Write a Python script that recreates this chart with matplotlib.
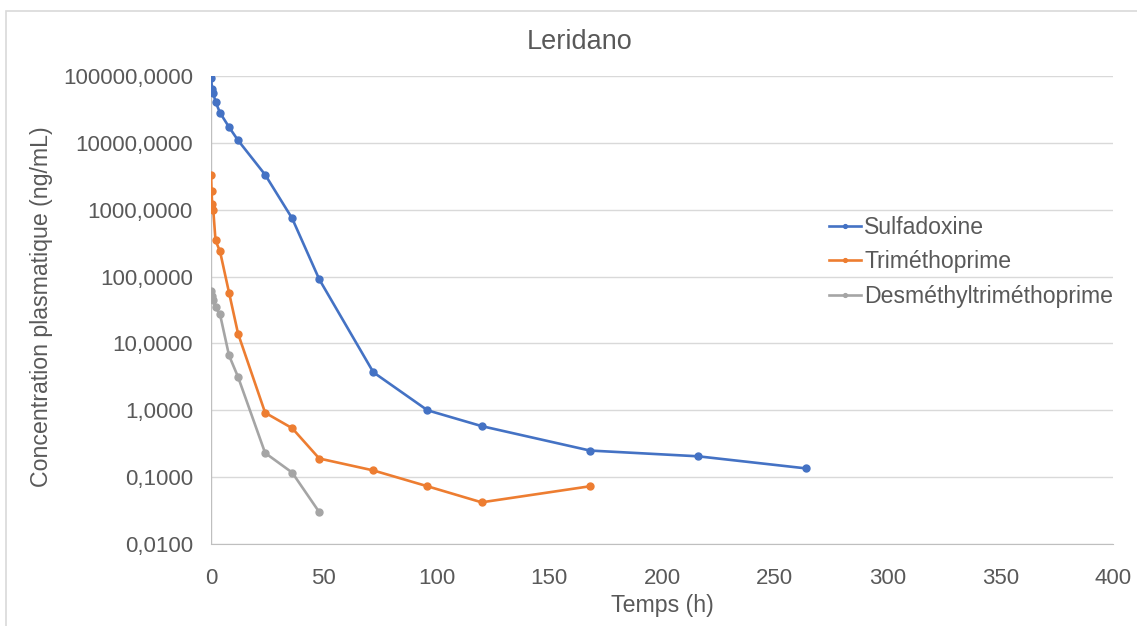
import matplotlib
matplotlib.use("Agg")
import matplotlib.pyplot as plt
from matplotlib.ticker import FixedLocator, FuncFormatter, NullLocator
from matplotlib.patches import Rectangle

title = "Leridano"
x_label = "Temps (h)"
y_label = "Concentration plasmatique (ng/mL)"

t_sulfa = [0, 0.5, 1, 2, 4, 8, 12, 24, 36, 48, 72, 96, 120, 168, 216, 264]
c_sulfa = [92700, 64400, 55300, 41100, 28200, 17200, 10900, 3340, 741, 91, 3.7, 1.0, 0.58, 0.25, 0.205, 0.135]

t_tmp = [0, 0.25, 0.5, 1, 2, 4, 8, 12, 24, 36, 48, 72, 96, 120, 168]
c_tmp = [3340, 1900, 1230, 1000, 347, 238, 57.5, 14, 0.92, 0.54, 0.19, 0.126, 0.073, 0.042, 0.073]

t_dtmp = [0, 0.5, 1, 2, 4, 8, 12, 24, 36, 48]
c_dtmp = [61, 52, 44, 34.7, 27.2, 6.6, 3.15, 0.23, 0.117, 0.030]

series_names = ["Sulfadoxine", "Triméthoprime", "Desméthyltriméthoprime"]
colors = ["#4472C4", "#ED7D31", "#A5A5A5"]

x_ticks = [0, 50, 100, 150, 200, 250, 300, 350, 400]
y_ticks = [0.01, 0.1, 1, 10, 100, 1000, 10000, 100000]

plt.rcParams['font.family'] = ['Liberation Sans', 'DejaVu Sans']
text_color = "#595959"
grid_color = "#D9D9D9"

W, H = 1137, 626
fig = plt.figure(figsize=(W / 100, H / 100), dpi=100)
ax = fig.add_axes([211 / W, 1 - 544 / H, (1113 - 211) / W, (544 - 76) / H])

for t, c, name, col in zip([t_sulfa, t_tmp, t_dtmp], [c_sulfa, c_tmp, c_dtmp], series_names, colors):
    ax.plot(t, c, color=col, lw=1.9, marker='o', markersize=5, label=name, zorder=3)

ax.set_yscale('log')
ax.set_xlim(0, 400)
ax.set_ylim(0.01, 100000)
ax.xaxis.set_major_locator(FixedLocator(x_ticks))
ax.yaxis.set_major_locator(FixedLocator(y_ticks))
ax.yaxis.set_minor_locator(NullLocator())
ax.yaxis.set_major_formatter(FuncFormatter(lambda v, p: f"{v:.4f}".replace('.', ',')))
ax.xaxis.set_major_formatter(FuncFormatter(lambda v, p: f"{v:g}"))

ax.grid(True, axis='y', color=grid_color, lw=1.0)
ax.set_axisbelow(True)
for s in ['top', 'right']:
    ax.spines[s].set_visible(False)
ax.spines['left'].set_visible(False)
ax.spines['bottom'].set_color('#BFBFBF')
ax.axvline(0, color='#BFBFBF', lw=1.0, zorder=1)

ax.tick_params(axis='both', length=0, labelsize=16, colors=text_color)
ax.tick_params(axis='x', pad=17)
ax.tick_params(axis='y', pad=13)

ax.set_xlabel(x_label, fontsize=16.7, color=text_color)
ax.xaxis.set_label_coords(0.5, -0.107)
ax.set_ylabel(y_label, fontsize=16.7, color=text_color)
ax.yaxis.set_label_coords(-0.175, 0.507)

fig.text(580 / W, 1 - 42 / H, title, fontsize=19.5, color=text_color, ha='center', va='center')

leg = fig.legend(loc='center left', bbox_to_anchor=(829 / W, 1 - 262 / H), frameon=False,
                 fontsize=16.6, handlelength=1.4, handletextpad=0.12, labelspacing=0.5,
                 borderpad=0, borderaxespad=0, markerscale=0.55)
for txt in leg.get_texts():
    txt.set_color(text_color)

fig.patches.append(Rectangle((6 / W, -0.01), 1.1, 1 - 11 / H + 0.01, transform=fig.transFigure,
                             fill=False, edgecolor=grid_color, lw=1.2))

fig.savefig("out.png", dpi=100)
